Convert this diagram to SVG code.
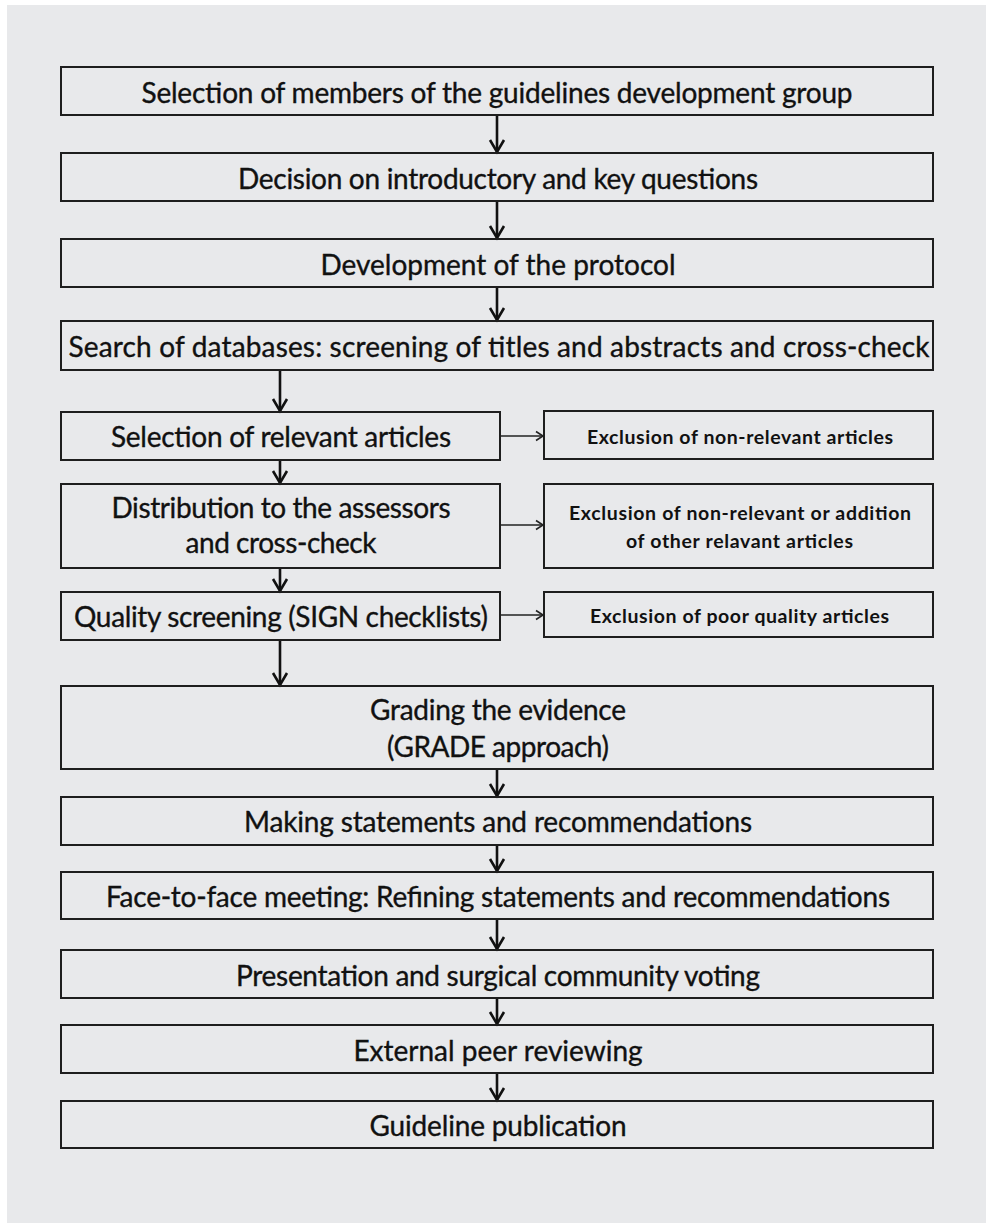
<svg xmlns="http://www.w3.org/2000/svg" width="986" height="1223" viewBox="0 0 986 1223">
<style>
.box{fill:none;stroke:#1e1e1e;stroke-width:2}
.t{font-family:Lato,"Liberation Sans",sans-serif;font-size:28px;fill:#111;stroke:#111;stroke-width:0.35;text-anchor:middle}
.s{font-family:Lato,"Liberation Sans",sans-serif;font-size:19.5px;font-weight:bold;fill:#111;text-anchor:middle}
.v{fill:none;stroke:#111;stroke-width:2.6}
.h{fill:none;stroke:#222;stroke-width:1.6}
</style>
<defs>
<marker id="av" markerUnits="userSpaceOnUse" markerWidth="30" markerHeight="30" refX="0" refY="0" orient="auto" overflow="visible">
<path d="M-12,-7 L0,0 L-12,7" fill="none" stroke="#111" stroke-width="2.6" stroke-linejoin="miter"/>
</marker>
<marker id="ah" markerUnits="userSpaceOnUse" markerWidth="20" markerHeight="20" refX="0" refY="0" orient="auto" overflow="visible">
<path d="M-7,-4.5 L0,0 L-7,4.5" fill="none" stroke="#222" stroke-width="1.6"/>
</marker>
</defs>
<rect x="0" y="0" width="986" height="1223" fill="#ffffff"/>
<rect x="7" y="5" width="979" height="1218" fill="#e8e9eb"/>

<g id="connectors">
<line class="v" x1="497" y1="115" x2="497" y2="152" marker-end="url(#av)"/>
<line class="v" x1="497" y1="201" x2="497" y2="238" marker-end="url(#av)"/>
<line class="v" x1="497" y1="287" x2="497" y2="320" marker-end="url(#av)"/>
<line class="v" x1="280" y1="370" x2="280" y2="411" marker-end="url(#av)"/>
<line class="v" x1="280" y1="460" x2="280" y2="483" marker-end="url(#av)"/>
<line class="v" x1="280" y1="568" x2="280" y2="591" marker-end="url(#av)"/>
<line class="v" x1="280" y1="640" x2="280" y2="685" marker-end="url(#av)"/>
<line class="v" x1="497" y1="769" x2="497" y2="796" marker-end="url(#av)"/>
<line class="v" x1="497" y1="845" x2="497" y2="871" marker-end="url(#av)"/>
<line class="v" x1="497" y1="919" x2="497" y2="949" marker-end="url(#av)"/>
<line class="v" x1="497" y1="998" x2="497" y2="1024" marker-end="url(#av)"/>
<line class="v" x1="497" y1="1073" x2="497" y2="1100" marker-end="url(#av)"/>
<line class="h" x1="500" y1="436" x2="543" y2="436" marker-end="url(#ah)"/>
<line class="h" x1="500" y1="525" x2="543" y2="525" marker-end="url(#ah)"/>
<line class="h" x1="500" y1="615" x2="543" y2="615" marker-end="url(#ah)"/>
</g>

<g id="n1"><rect class="box" x="61" y="67" width="872" height="48"/><text class="t" x="497" y="103" textLength="711">Selection of members of the guidelines development group</text></g>
<g id="n2"><rect class="box" x="61" y="153" width="872" height="48"/><text class="t" x="498" y="189" textLength="520">Decision on introductory and key questions</text></g>
<g id="n3"><rect class="box" x="61" y="239" width="872" height="48"/><text class="t" x="498" y="275">Development of the protocol</text></g>
<g id="n4"><rect class="box" x="61" y="321" width="872" height="49"/><text class="t" x="499" y="357" textLength="861">Search of databases: screening of titles and abstracts and cross-check</text></g>
<g id="n5"><rect class="box" x="61" y="412" width="439" height="48"/><text class="t" x="281" y="447" textLength="340">Selection of relevant articles</text></g>
<g id="n6"><rect class="box" x="61" y="484" width="439" height="84"/><text class="t" x="281" y="518" textLength="339">Distribution to the assessors</text><text class="t" x="281" y="553" textLength="191">and cross-check</text></g>
<g id="n7"><rect class="box" x="61" y="592" width="439" height="48"/><text class="t" x="281" y="627" textLength="414">Quality screening (SIGN checklists)</text></g>
<g id="s1"><rect class="box" x="544" y="411" width="389" height="48"/><text class="s" x="740" y="444" textLength="306">Exclusion of non-relevant articles</text></g>
<g id="s2"><rect class="box" x="544" y="484" width="389" height="84"/><text class="s" x="740" y="520" textLength="342">Exclusion of non-relevant or addition</text><text class="s" x="739.5" y="548" textLength="227">of other relavant articles</text></g>
<g id="s3"><rect class="box" x="544" y="592" width="389" height="45"/><text class="s" x="739.5" y="623" textLength="299">Exclusion of poor quality articles</text></g>
<g id="n8"><rect class="box" x="61" y="686" width="872" height="83"/><text class="t" x="498" y="720" textLength="256">Grading the evidence</text><text class="t" x="498" y="757" textLength="222">(GRADE approach)</text></g>
<g id="n9"><rect class="box" x="61" y="797" width="872" height="48"/><text class="t" x="498" y="832" textLength="508">Making statements and recommendations</text></g>
<g id="n10"><rect class="box" x="61" y="872" width="872" height="47"/><text class="t" x="498" y="907" textLength="784">Face-to-face meeting: Refining statements and recommendations</text></g>
<g id="n11"><rect class="box" x="61" y="950" width="872" height="48"/><text class="t" x="498" y="986" textLength="524">Presentation and surgical community voting</text></g>
<g id="n12"><rect class="box" x="61" y="1025" width="872" height="48"/><text class="t" x="498" y="1061">External peer reviewing</text></g>
<g id="n13"><rect class="box" x="61" y="1101" width="872" height="47"/><text class="t" x="498" y="1136" textLength="257">Guideline publication</text></g>
</svg>
